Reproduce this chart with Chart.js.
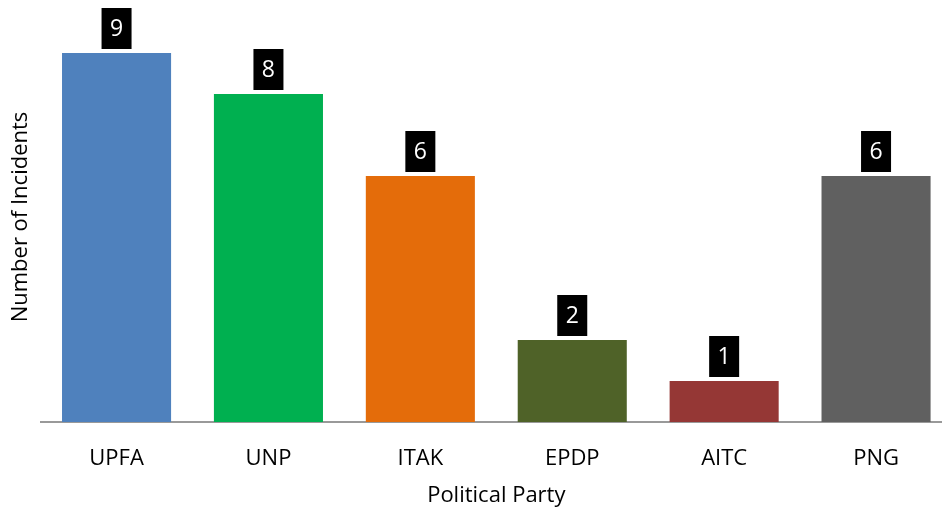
<!DOCTYPE html>
<html><head><meta charset="utf-8">
<script src="https://cdn.jsdelivr.net/npm/chart.js@4"></script>
<style>html,body{margin:0;padding:0;overflow:hidden;background:#fff}#wrap{width:952px;height:513px;position:relative}</style>
</head><body><div id="wrap"><canvas id="c"></canvas></div>
<script>
const categories = ["UPFA","UNP","ITAK","EPDP","AITC","PNG"];
const incidents = [9,8,6,2,1,6];
const barColors = ["#4F81BD","#00B050","#E46C0A","#4F6228","#953735","#606060"];
const FONT = "'Open Sans', sans-serif";

const boxLabels = {
  id:'boxLabels',
  afterDatasetsDraw(chart){
    const ctx = chart.ctx;
    const meta = chart.getDatasetMeta(0);
    ctx.save();
    ctx.font = "23px " + FONT;
    ctx.textAlign = 'center'; ctx.textBaseline = 'middle';
    meta.data.forEach((bar,i)=>{
      const w=30,h=41;
      const x=bar.x - w/2, y=bar.y - 4 - h;
      ctx.fillStyle='#000'; ctx.fillRect(x,y,w,h);
      ctx.fillStyle='#fff'; ctx.fillText(String(incidents[i]), bar.x, y+h/2+1);
    });
    ctx.restore();
  }
};

new Chart(document.getElementById('c'),{
  type:'bar',
  data:{labels:categories,datasets:[{data:incidents,backgroundColor:barColors,barPercentage:0.718,categoryPercentage:1}]},
  options:{
    responsive:true,maintainAspectRatio:false,animation:false,
    layout:{padding:{top:12,right:0,bottom:0,left:0}},
    plugins:{legend:{display:false},tooltip:{enabled:false}},
    scales:{
      y:{min:0,max:10,
        ticks:{display:false},grid:{display:false},border:{display:false},
        title:{display:true,text:"Number of Incidents",color:"#000",font:{family:FONT,size:22},padding:{top:8,bottom:0}},
        afterFit(s){s.width=40.6;}
      },
      x:{
        grid:{display:false,drawTicks:false},
        border:{display:true,color:"#999",width:2},
        ticks:{color:"#000",font:{family:FONT,size:22},padding:24,maxRotation:0},
        title:{display:true,text:"Political Party",color:"#000",font:{family:FONT,size:22},padding:{top:0,bottom:4}},
        afterFit(s){s.height=91;}
      }
    }
  },
  plugins:[boxLabels]
});
</script></body></html>
